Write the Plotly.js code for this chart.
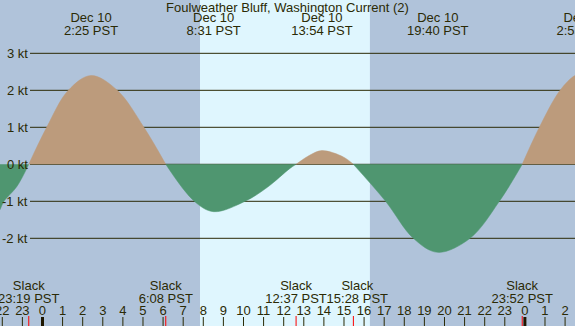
<!DOCTYPE html>
<html>
<head>
<meta charset="utf-8">
<script src="https://cdn.plot.ly/plotly-3.0.1.min.js"></script>
<style>html,body{margin:0;padding:0;background:#b0c3da;}#chart{width:575px;height:326px;}</style>
</head>
<body>
<div id="chart"></div>
<script>
// ---- data (hours from Dec 10 00:00 PST, knots) ----
const hours = [-2.114, -1.915, -1.274, -0.683, 0.209, 1.284, 2.417, 3.721, 5.045, 6.133, 7.552, 8.517, 10.075, 11.19, 12.313, 12.617, 13.31, 13.9, 14.965, 15.467, 17.07, 18.45, 19.667, 21.27, 22.73, 23.867, 24.72, 25.75, 26.49, 26.9];
const knots = [-1.23, -1.0, -0.6, 0, 1.0, 2.0, 2.40, 2.0, 1.0, 0, -1.0, -1.28, -1.0, -0.62, -0.11, 0, 0.25, 0.37, 0.2, 0, -1.0, -2.0, -2.38, -2.0, -1.0, 0, 1.0, 2.0, 2.40, 2.45];

const extremaTimes = [2.417, 8.517, 13.9, 19.667, 26.917];
const extremaDates = ["Dec 10", "Dec 10", "Dec 10", "Dec 10", "Dec 11"];
const extremaLabels = ["2:25 PST", "8:31 PST", "13:54 PST", "19:40 PST", "2:55 PST"];

const slackTimes = [-0.683, 6.133, 12.617, 15.467, 23.867];
const slackLabels = ["23:19 PST", "6:08 PST", "12:37 PST", "15:28 PST", "23:52 PST"];

const hourTicks = [-2,-1,0,1,2,3,4,5,6,7,8,9,10,11,12,13,14,15,16,17,18,19,20,21,22,23,24,25,26];
const hourLabels = ["22","23","0","1","2","3","4","5","6","7","8","9","10","11","12","13","14","15","16","17","18","19","20","21","22","23","0","1","2"];
const midnights = [0, 24];

const ktLevels = [-2, -1, 0, 1, 2, 3];
const ktLabels = ["-2 kt", "-1 kt", "0 kt", "1 kt", "2 kt", "3 kt"];

const sunrise = 7.836, sunset = 16.29;

// ---- styling ----
const W = 575, H = 326;
const xMin = -2.114, xMax = 26.493;
const yMin = -4.370, yMax = 4.441;
const TXT = '#2b2a05';
const NIGHT = '#b0c3da', DAY = '#dff6fe';
const FLOOD = '#bc9b7c', EBB = '#4f9670';
const FONT = {family: 'Liberation Sans, Arial, sans-serif', size: 13, color: TXT};
function yAtPx(px) { return yMax - px * (yMax - yMin) / H; }
const pxPerHour = W / (xMax - xMin);

// place labels like the original: nudge a label right when it would overlap the previous one
function placeLabels(times, labels) {
  const out = [];
  let prevEnd = -Infinity;
  times.forEach((t, i) => {
    const halfW = labels[i].length * 6.8 / 2 / pxPerHour;
    let c = t;
    if (c - halfW < prevEnd) c = prevEnd + halfW;
    out.push(c);
    prevEnd = c + halfW;
  });
  return out;
}
const slackLabelPos = placeLabels(slackTimes, slackLabels);

// split curve into flood / ebb segments at slack points
const segs = [];
let cur = {x: [], y: []};
for (let i = 0; i < hours.length; i++) {
  cur.x.push(hours[i]); cur.y.push(knots[i]);
  if (knots[i] === 0 && cur.x.length > 1) {
    segs.push(cur);
    cur = {x: [hours[i]], y: [knots[i]]};
  }
}
if (cur.x.length > 1) segs.push(cur);

const traces = segs.map(s => {
  const peak = s.y.reduce((a, b) => Math.abs(b) > Math.abs(a) ? b : a, 0);
  const col = peak >= 0 ? FLOOD : EBB;
  return {x: s.x, y: s.y, type: 'scatter', mode: 'lines', fill: 'tozeroy',
    fillcolor: col, line: {color: col, width: 0.5, shape: 'spline', smoothing: 1},
    hoverinfo: 'skip', showlegend: false};
});

function textTrace(xs, ys, texts) {
  return {x: xs, y: ys, text: texts, type: 'scatter', mode: 'text',
    textposition: 'middle center', textfont: FONT, hoverinfo: 'skip',
    showlegend: false, cliponaxis: true};
}
traces.push(textTrace(extremaTimes, extremaTimes.map(() => yAtPx(18.5)), extremaDates));
traces.push(textTrace(extremaTimes, extremaTimes.map(() => yAtPx(31.5)), extremaLabels));
traces.push(textTrace(slackLabelPos, slackTimes.map(() => yAtPx(287)), slackTimes.map(() => 'Slack')));
traces.push(textTrace(slackLabelPos, slackTimes.map(() => yAtPx(299.5)), slackLabels));
traces.push(textTrace(hourTicks, hourTicks.map(() => yAtPx(311.5)), hourLabels));

const shapes = [];
shapes.push({type: 'rect', layer: 'below', xref: 'x', yref: 'paper', x0: sunrise, x1: sunset, y0: 0, y1: 1,
  fillcolor: DAY, line: {width: 0}});
ktLevels.forEach(k => shapes.push({type: 'line', layer: 'below', xref: 'paper', yref: 'y',
  x0: 30 / W, x1: 1, y0: k, y1: k, line: {color: TXT, width: 1}}));
hourTicks.forEach(h => shapes.push({type: 'line', layer: 'above', xref: 'x', yref: 'paper',
  x0: h, x1: h, y0: 0, y1: 9 / H, line: {color: TXT, width: 1}}));
slackTimes.forEach(t => shapes.push({type: 'line', layer: 'above', xref: 'x', yref: 'paper',
  x0: t, x1: t, y0: 0, y1: 10 / H, line: {color: '#ff0000', width: 1}}));
midnights.forEach(t => shapes.push({type: 'line', layer: 'above', xref: 'x', yref: 'paper',
  x0: t, x1: t, y0: 0, y1: 9 / H, line: {color: '#1e1600', width: 3}}));

const annotations = ktLevels.map((k, i) => ({xref: 'paper', yref: 'y', x: 28.5 / W, y: k,
  xanchor: 'right', yanchor: 'middle', text: ktLabels[i], showarrow: false, font: FONT,
  borderpad: 0}));

const layout = {
  width: W, height: H,
  margin: {l: 0, r: 0, t: 0, b: 0, pad: 0},
  paper_bgcolor: NIGHT, plot_bgcolor: NIGHT,
  title: {text: 'Foulweather Bluff, Washington Current (2)', font: FONT,
    x: 0.5, xanchor: 'center', xref: 'paper', y: 1 - 7.5 / H, yref: 'container', yanchor: 'middle'},
  xaxis: {range: [xMin, xMax], visible: false, fixedrange: true},
  yaxis: {range: [yMin, yMax], visible: false, fixedrange: true},
  shapes: shapes, annotations: annotations, showlegend: false
};

Plotly.newPlot('chart', traces, layout, {staticPlot: true, displayModeBar: false});
</script>
</body>
</html>
